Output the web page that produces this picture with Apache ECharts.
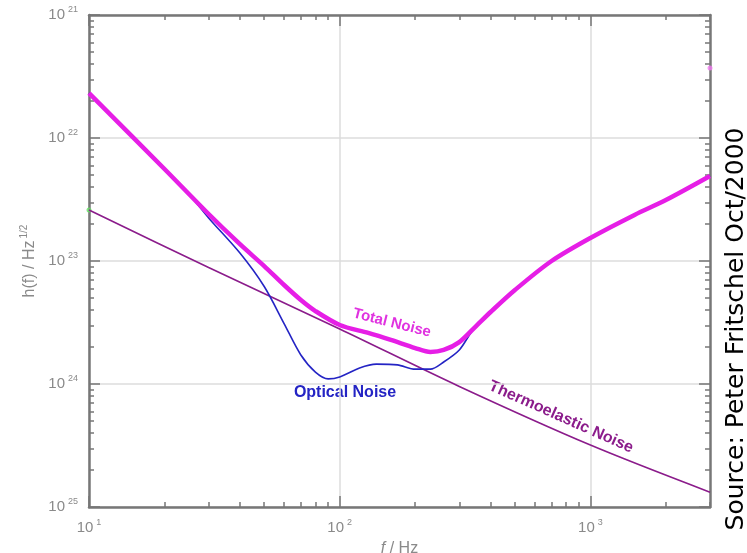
<!DOCTYPE html>
<html>
<head>
<meta charset="utf-8">
<script src="https://cdn.jsdelivr.net/npm/echarts@6/dist/echarts.min.js"></script>
<style>
  html, body { margin: 0; padding: 0; background: #fff; }
  #main { width: 747px; height: 553px; }
</style>
</head>
<body>
<div id="main"></div>
<script>
// strain noise curves (h in 1/sqrt(Hz))
const freqTotal = [10, 20, 30, 40, 50, 60, 70, 80, 100, 130, 160, 200, 230, 260, 300, 350, 400, 500, 700, 1000, 1500, 2000, 3000];
const totalNoise = [2.32e-22, 5.6e-23, 2.41e-23, 1.37e-23, 9.1e-24, 6.38e-24, 4.82e-24, 3.92e-24, 3.02e-24, 2.60e-24, 2.28e-24, 1.96e-24, 1.82e-24, 1.89e-24, 2.19e-24, 2.96e-24, 3.85e-24, 5.81e-24, 1.0e-23, 1.54e-23, 2.37e-23, 3.13e-23, 4.91e-23];

const freqOptical = [10, 20, 25, 30, 40, 50, 60, 70, 80, 90, 100, 120, 140, 170, 200, 230, 260, 300, 340, 400, 500, 700, 1000, 1500, 2000, 3000];
const opticalNoise = [2.32e-22, 5.6e-23, 3.51e-23, 2.24e-23, 1.16e-23, 6.2e-24, 3.1e-24, 1.72e-24, 1.25e-24, 1.10e-24, 1.14e-24, 1.35e-24, 1.45e-24, 1.43e-24, 1.32e-24, 1.32e-24, 1.51e-24, 1.89e-24, 2.75e-24, 3.85e-24, 5.81e-24, 1.0e-23, 1.54e-23, 2.37e-23, 3.13e-23, 4.91e-23];

const freqThermo = [10, 30, 100, 300, 1000, 3000];
const thermoNoise = [2.60e-23, 8.85e-24, 2.80e-24, 9.55e-25, 3.19e-25, 1.32e-25];

// stray end dots in the original
const dotFreq = [3000, 10];
const dotValue = [3.7e-22, 2.6e-23];

const xMajor = [10, 100, 1000];
const yMajor = [1e-25, 1e-24, 1e-23, 1e-22, 1e-21];

// y axis is plotted in units of 1e-25 so tick values stay well above float rounding
const Y_UNIT = 1e-25;
const zip = (xs, ys) => xs.map((x, i) => [x, ys[i] / Y_UNIT]);

const xMinor = [];
[10, 100, 1000].forEach(d => { for (let k = 2; k <= 9; k++) if (k * d <= 3000) xMinor.push(k * d); });
const yMinor = [];
[-25, -24, -23, -22].forEach(e => { for (let k = 2; k <= 9; k++) yMinor.push(k * Math.pow(10, e)); });

const toUnit = arr => arr.map(v => Math.round(v / Y_UNIT));

const labelRich = {
  b: { fontSize: 15, color: '#8a8a8a', fontFamily: 'Liberation Sans' },
  s: { fontSize: 9, color: '#8a8a8a', fontFamily: 'Liberation Sans', padding: [0, 0, 11, 3] }
};
const axisGray = '#777';

function tickAxis(pos, vals, len, base) {
  return Object.assign({
    type: 'log', logBase: 10, position: pos,
    axisLine: { show: false },
    axisLabel: { show: false },
    splitLine: { show: false },
    axisTick: { show: true, inside: true, length: len, customValues: vals, lineStyle: { color: axisGray, width: 1.5 } }
  }, base);
}

const xBase = { min: 10, max: 3000 };
const yBase = { min: 1, max: 10000 };

const myChart = echarts.init(document.getElementById('main'));
myChart.setOption({
  animation: false,
  grid: { left: 89, right: 37, top: 15, bottom: 46, outerBoundsMode: 'none' },
  xAxis: [
    Object.assign({
      type: 'log', logBase: 10, position: 'bottom',
      name: '{i|f} / Hz', nameLocation: 'middle', nameGap: 25,
      nameTextStyle: { color: '#8a8a8a', fontSize: 16, fontFamily: 'Liberation Sans',
        rich: { i: { fontStyle: 'italic', fontSize: 16, color: '#8a8a8a', fontFamily: 'Liberation Sans' } } },
      axisLine: { show: true, onZero: false, lineStyle: { color: axisGray, width: 2.5 } },
      axisTick: { show: true, inside: true, length: 11, customValues: xMajor, lineStyle: { color: axisGray, width: 1.5 } },
      axisLabel: { margin: 11, customValues: xMajor, rich: labelRich,
        formatter: v => '{b|10}{s|' + Math.round(Math.log10(v)) + '}' },
      splitLine: { show: true, lineStyle: { color: '#dcdcdc', width: 1.5 } }
    }, xBase),
    tickAxis('bottom', xMinor, 5, xBase),
    Object.assign(tickAxis('top', xMajor, 11, xBase), { axisLine: { show: true, onZero: false, lineStyle: { color: axisGray, width: 2.5 } } }),
    tickAxis('top', xMinor, 5, xBase)
  ],
  yAxis: [
    Object.assign({
      type: 'log', logBase: 10, position: 'left',
      name: 'h(f) / Hz{s|1/2}', nameLocation: 'middle', nameGap: 37,
      nameTextStyle: { color: '#8a8a8a', fontSize: 16, fontFamily: 'Liberation Sans',
        rich: { s: { fontSize: 10, color: '#8a8a8a', fontFamily: 'Liberation Sans', padding: [0, 0, 11, 2] } } },
      axisLine: { show: true, onZero: false, lineStyle: { color: axisGray, width: 2.5 } },
      axisTick: { show: true, inside: true, length: 11, customValues: toUnit(yMajor), lineStyle: { color: axisGray, width: 1.5 } },
      axisLabel: { margin: 11, customValues: toUnit(yMajor), rich: labelRich,
        formatter: v => '{b|10}{s|' + Math.round(-Math.log10(v * Y_UNIT)) + '}' },
      splitLine: { show: true, lineStyle: { color: '#dcdcdc', width: 1.5 } }
    }, yBase),
    tickAxis('left', toUnit(yMinor), 5, yBase),
    Object.assign(tickAxis('right', toUnit(yMajor), 11, yBase), { axisLine: { show: true, onZero: false, lineStyle: { color: axisGray, width: 2.5 } } }),
    tickAxis('right', toUnit(yMinor), 5, yBase)
  ],
  series: [
    {
      name: 'Thermoelastic Noise', type: 'line', smooth: 0.3, showSymbol: false,
      data: zip(freqThermo, thermoNoise),
      lineStyle: { color: '#8b1c8b', width: 1.6 }
    },
    {
      name: 'Optical Noise', type: 'line', smooth: 0.3, showSymbol: false,
      data: zip(freqOptical, opticalNoise),
      lineStyle: { color: '#2424c4', width: 1.6 }
    },
    {
      name: 'Total Noise', type: 'line', smooth: 0.3, showSymbol: false,
      data: zip(freqTotal, totalNoise),
      lineStyle: { color: '#e61ee6', width: 4.5 }
    },
    {
      name: 'dots', type: 'scatter', symbolSize: 5,
      data: zip(dotFreq, dotValue),
      itemStyle: { color: p => p.dataIndex === 0 ? '#f07af0' : '#66dd66' }
    }
  ],
  graphic: [
    { type: 'text', x: 392, y: 323, rotation: -14 * Math.PI / 180,
      style: { text: 'Total Noise', fill: '#e032e0', font: 'bold 15px "Liberation Sans"', align: 'center', verticalAlign: 'middle' } },
    { type: 'text', x: 345, y: 393,
      style: { text: 'Optical Noise', fill: '#2424c4', font: 'bold 16px "Liberation Sans"', align: 'center', verticalAlign: 'middle' } },
    { type: 'text', x: 561, y: 417, rotation: -24 * Math.PI / 180,
      style: { text: 'Thermoelastic Noise', fill: '#8b1c8b', font: 'bold 16px "Liberation Sans"', align: 'center', verticalAlign: 'middle' } },
    { type: 'text', x: 736, y: 329, rotation: Math.PI / 2,
      style: { text: 'Source: Peter Fritschel Oct/2000', fill: '#000', font: '25px "DejaVu Sans"', align: 'center', verticalAlign: 'middle' } }
  ]
});
</script>
</body>
</html>
